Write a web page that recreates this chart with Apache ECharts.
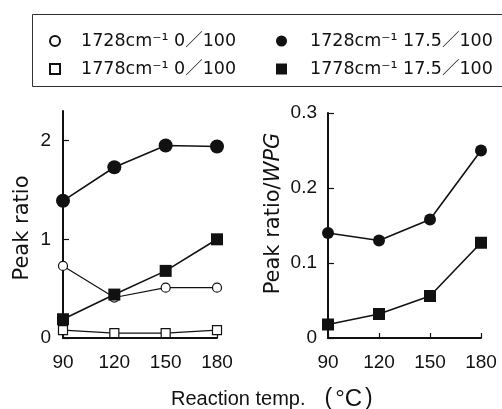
<!DOCTYPE html>
<html>
<head>
<meta charset="utf-8">
<script src="https://cdn.jsdelivr.net/npm/echarts@6/dist/echarts.min.js"></script>
<style>html,body{margin:0;padding:0;background:#fff}#chart{width:502px;height:409px}</style>
</head>
<body>
<div id="chart"></div>
<script>
var temps = [90, 120, 150, 180];
var names = ['1728cm⁻¹ 0／100', '1778cm⁻¹ 0／100', '1728cm⁻¹ 17.5／100', '1778cm⁻¹ 17.5／100'];
// left panel: peak ratio
var ratio1728_0 = [0.73, 0.41, 0.51, 0.51];
var ratio1778_0 = [0.08, 0.05, 0.05, 0.08];
var ratio1728_175 = [1.39, 1.73, 1.95, 1.94];
var ratio1778_175 = [0.19, 0.44, 0.68, 1.00];
// right panel: peak ratio / WPG
var wpg1728_175 = [0.14, 0.13, 0.158, 0.25];
var wpg1778_175 = [0.018, 0.032, 0.056, 0.127];
var leftTicks = [0, 1, 2];
var rightTicks = [0, 0.1, 0.2, 0.3];
var xTicks = [90, 120, 150, 180];

var ink = '#111';
var font = "'DejaVu Sans', 'Noto Sans CJK JP', sans-serif";
var arial = "'Liberation Sans', 'Noto Sans CJK JP', sans-serif";
var chart = echarts.init(document.getElementById('chart'));

function mk(name, vals, idx, symbol, size, filled, lw) {
  return {
    type: 'line', name: name, xAxisIndex: idx, yAxisIndex: idx,
    data: temps.map(function (t, i) { return [t, vals[i]]; }),
    symbol: symbol, symbolSize: size, showSymbol: true, clip: false,
    lineStyle: {color: ink, width: lw},
    itemStyle: filled ? {color: ink} : {color: '#fff', borderColor: ink, borderWidth: 1.2},
    emphasis: {disabled: true}
  };
}

function legendStyle(pad) {
  return {color: ink, fontSize: 17.5, fontFamily: font, lineHeight: 20, padding: [0, 0, 0, pad]};
}

function xAxis(idx) {
  return {
    type: 'value', gridIndex: idx, min: 90, max: 180, interval: 30,
    axisLine: {lineStyle: {color: ink, width: 2}},
    axisTick: {inside: true, length: 5, lineStyle: {color: ink, width: 1.2}, customValues: xTicks},
    axisLabel: {color: ink, fontSize: 19, fontFamily: arial, margin: 15, customValues: xTicks},
    splitLine: {show: false}
  };
}

var option = {
  animation: false,
  backgroundColor: '#fff',
  title: {
    text: '{a|Reaction temp.}{p|(}{c|°C}{b|)}', left: 171, top: 388, padding: 0,
    textStyle: {
      fontWeight: 'normal',
      rich: {
        a: {color: ink, fontSize: 20, fontWeight: 'normal', fontFamily: arial, lineHeight: 22},
        p: {color: ink, fontSize: 23, fontWeight: 'normal', fontFamily: arial, lineHeight: 22, padding: [0, 3, 0, 19]},
        b: {color: ink, fontSize: 23, fontWeight: 'normal', fontFamily: arial, lineHeight: 22, padding: [0, 0, 0, 3]},
        c: {color: ink, fontSize: 24, fontWeight: 'normal', fontFamily: arial, lineHeight: 22}
      }
    }
  },
  graphic: [{
    type: 'rect', left: 30, top: 12,
    shape: {width: 470, height: 72},
    style: {fill: null, stroke: '#333', lineWidth: 1}
  }],
  legend: [{
    left: 49, top: 31, orient: 'vertical', padding: 0,
    itemWidth: 10, itemHeight: 10, itemGap: 8, selectedMode: false,
    data: [{name: names[0], icon: 'circle'}, {name: names[1], icon: 'rect'}],
    textStyle: legendStyle(16)
  }, {
    left: 276, top: 31, orient: 'vertical', padding: 0,
    itemWidth: 11, itemHeight: 11, itemGap: 8, selectedMode: false,
    data: [{name: names[2], icon: 'circle'}, {name: names[3], icon: 'rect'}],
    textStyle: legendStyle(18)
  }],
  grid: [
    {left: 63, right: 285, top: 111, bottom: 71},
    {left: 328, right: 21, top: 113, bottom: 71}
  ],
  xAxis: [xAxis(0), xAxis(1)],
  yAxis: [{
    type: 'value', gridIndex: 0, min: 0, max: 2.3, interval: 1,
    name: 'Peak ratio', nameLocation: 'middle', nameRotate: 90, nameGap: 30,
    nameTextStyle: {color: ink, fontSize: 21, fontFamily: font, padding: [0, 7, 0, 0]},
    axisLine: {lineStyle: {color: ink, width: 2}},
    axisTick: {inside: true, length: 6, lineStyle: {color: ink, width: 1.2}, customValues: leftTicks},
    axisLabel: {color: ink, fontSize: 19, fontFamily: arial, margin: 12, customValues: leftTicks},
    splitLine: {show: false}
  }, {
    type: 'value', gridIndex: 1, min: 0, max: 0.3, interval: 0.1,
    name: 'Peak ratio/{i|WPG}', nameLocation: 'middle', nameRotate: 90, nameGap: 44,
    nameTextStyle: {color: ink, fontSize: 21, fontFamily: font, padding: [0, 0, 0, 24],
      rich: {i: {fontStyle: 'italic', fontSize: 21, fontFamily: font, color: ink}}},
    axisLine: {lineStyle: {color: ink, width: 2}},
    axisTick: {inside: true, length: 6, lineStyle: {color: ink, width: 1.2}, customValues: rightTicks},
    axisLabel: {color: ink, fontSize: 19, fontFamily: arial, margin: 11, customValues: rightTicks,
      formatter: function (v) { return v === 0 ? '0' : v.toFixed(1); }},
    splitLine: {show: false}
  }],
  series: [
    mk(names[0], ratio1728_0, 0, 'circle', 9, false, 1.2),
    mk(names[1], ratio1778_0, 0, 'rect', 9, false, 1.2),
    mk(names[2], ratio1728_175, 0, 'circle', 14, true, 1.6),
    mk(names[3], ratio1778_175, 0, 'rect', 12, true, 1.6),
    mk(names[2], wpg1728_175, 1, 'circle', 12, true, 1.6),
    mk(names[3], wpg1778_175, 1, 'rect', 12, true, 1.6)
  ]
};
chart.setOption(option);
</script>
</body>
</html>
